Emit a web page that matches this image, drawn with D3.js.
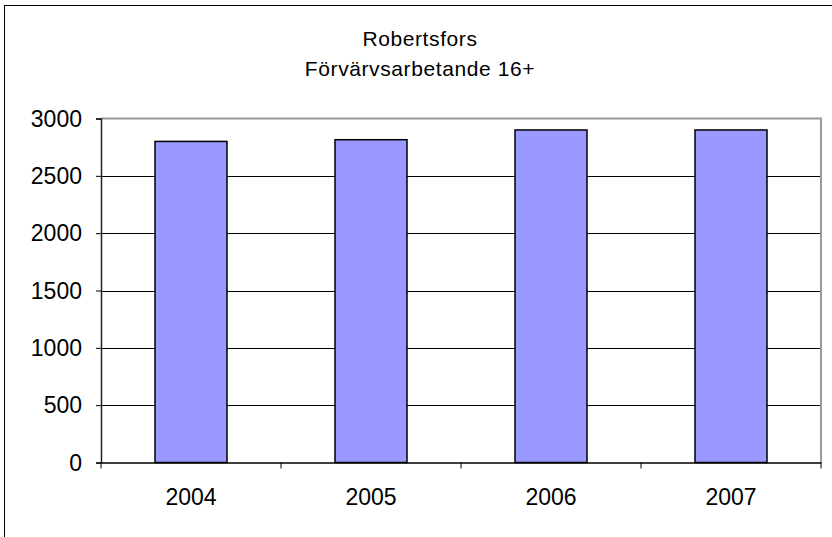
<!DOCTYPE html>
<html>
<head>
<meta charset="utf-8">
<script src="https://cdnjs.cloudflare.com/ajax/libs/d3/7.8.5/d3.min.js"></script>
<style>
  html, body { margin: 0; padding: 0; background: #fff; }
  svg { display: block; }
  text { font-family: "Liberation Sans", Arial, sans-serif; fill: #000; }
</style>
</head>
<body>
<svg id="chart" width="832" height="537"></svg>
<script>
const titleLines = ["Robertsfors", "Förvärvsarbetande 16+"];
const categories = ["2004", "2005", "2006", "2007"];
const values = [2800, 2815, 2900, 2900];
const yTicks = [0, 500, 1000, 1500, 2000, 2500, 3000];

const svg = d3.select("#chart");
const plot = { left: 101, top: 118.5, right: 821, bottom: 462.5 };
const FONT = "Liberation Sans, Arial, sans-serif";

// outer chart border
svg.append("rect")
  .attr("x", 4.5).attr("y", 5.5).attr("width", 840).attr("height", 560)
  .attr("fill", "#fff").attr("stroke", "#000").attr("stroke-width", 1);

const x = d3.scaleBand().domain(categories).range([plot.left, plot.right]).padding(0);
const y = d3.scaleLinear().domain([0, 3000]).range([plot.bottom, plot.top]);

// gridlines
svg.append("g").selectAll("line").data(yTicks.filter(d => d > 0 && d < 3000)).join("line")
  .attr("x1", plot.left).attr("x2", plot.right)
  .attr("y1", d => Math.round(y(d)) + 0.5).attr("y2", d => Math.round(y(d)) + 0.5)
  .attr("stroke", "#000").attr("stroke-width", 1);

// plot area border (top & right gray)
svg.append("path")
  .attr("d", `M${plot.left},${plot.top}H${plot.right}V${plot.bottom}`)
  .attr("fill", "none").attr("stroke", "#9a9a9a").attr("stroke-width", 2);

// bars
const barW = x.bandwidth() * 0.4;
svg.append("g").selectAll("rect").data(values).join("rect")
  .attr("x", (d, i) => x(categories[i]) + (x.bandwidth() - barW) / 2)
  .attr("y", d => y(d))
  .attr("width", barW)
  .attr("height", d => y(0) - y(d))
  .attr("fill", "#9999ff").attr("stroke", "#000").attr("stroke-width", 1.5);

// y axis
const yAxis = d3.axisLeft(y).tickValues(yTicks).tickSize(5).tickPadding(14).tickFormat(d3.format("d"));
const gy = svg.append("g").attr("transform", `translate(${plot.left},0)`).call(yAxis);
gy.select(".domain").attr("stroke", "#222").attr("stroke-width", 1.5);
gy.selectAll(".tick line").attr("stroke", "#000").attr("stroke-width", 1);
gy.selectAll(".tick text").attr("font-size", 23).attr("font-family", FONT).attr("dy", "0.34em");

// x axis
const xAxis = d3.axisBottom(x).tickSize(0).tickPadding(26);
const gx = svg.append("g").attr("transform", `translate(0,${plot.bottom})`).call(xAxis);
gx.select(".domain").attr("stroke", "#000").attr("stroke-width", 1.5);
gx.selectAll(".tick text").attr("font-size", 23).attr("font-family", FONT);
// category boundary ticks
const bounds = categories.map(c => x(c)).concat([plot.right]);
gx.append("g").selectAll("line").data(bounds).join("line")
  .attr("x1", d => d).attr("x2", d => d).attr("y1", 0).attr("y2", 6)
  .attr("stroke", "#000").attr("stroke-width", 1);

// title
svg.append("g").selectAll("text").data(titleLines).join("text")
  .attr("x", 420).attr("y", (d, i) => 46 + i * 30)
  .attr("text-anchor", "middle").attr("font-size", 21)
  .attr("letter-spacing", "0.6px")
  .text(d => d);
</script>
</body>
</html>
